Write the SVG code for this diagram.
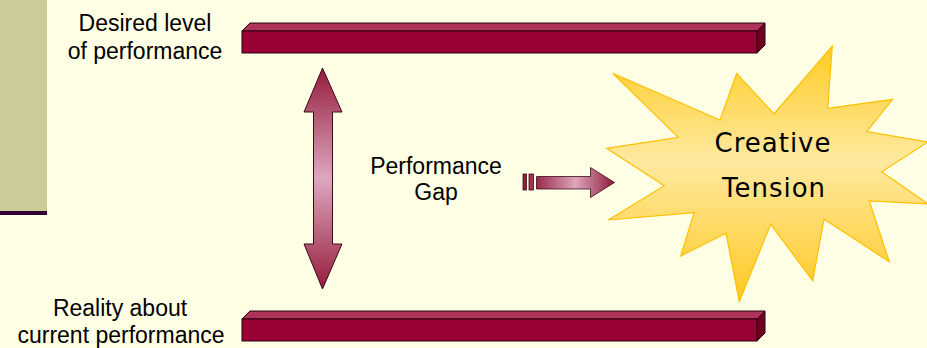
<svg xmlns="http://www.w3.org/2000/svg" width="927" height="348" viewBox="0 0 927 348">
<defs>
<style>
.lbl{font-family:"Liberation Sans",Arial,sans-serif;font-size:23px;fill:#000;text-anchor:middle}
.hand{font-family:"Segoe Print","Comic Sans MS","DejaVu Sans",sans-serif;font-size:26px;fill:#000;text-anchor:middle;letter-spacing:1px}
.front{fill:#990033;stroke:#2a0010;stroke-width:1}
.top{fill:#AD3359;stroke:#2a0010;stroke-width:1}
.side{fill:#6E0022;stroke:#2a0010;stroke-width:1}
</style>
<linearGradient id="gv" x1="0" y1="0" x2="0" y2="1">
<stop offset="0" stop-color="#951C3C"/>
<stop offset="0.5" stop-color="#DDA8BE"/>
<stop offset="1" stop-color="#951C3C"/>
</linearGradient>
<linearGradient id="gh" x1="0" y1="0" x2="1" y2="0">
<stop offset="0" stop-color="#9B2A4C"/>
<stop offset="0.5" stop-color="#DDA6BC"/>
<stop offset="1" stop-color="#8E1A3C"/>
</linearGradient>
<linearGradient id="gs" x1="0" y1="0" x2="0" y2="1">
<stop offset="0" stop-color="#FFCC22"/>
<stop offset="0.45" stop-color="#FFE9A0"/>
<stop offset="1" stop-color="#FFC821"/>
</linearGradient>
</defs>
<rect x="0" y="0" width="927" height="348" fill="#FFFFE6"/>
<rect x="0" y="0" width="47" height="211" fill="#CCCC99"/>
<rect x="0" y="211" width="47" height="4" fill="#330033"/>

<g id="desired-bar">
<polygon class="top" points="242,31 250,23 765,23 757,31"/>
<polygon class="side" points="757,31 765,23 765,45 757,53"/>
<rect class="front" x="242" y="31" width="515" height="22"/>
</g>
<g id="reality-bar">
<polygon class="top" points="242,319 250,311 765,311 757,319"/>
<polygon class="side" points="757,319 765,311 765,333 757,341"/>
<rect class="front" x="242" y="319" width="515" height="22"/>
</g>

<g id="desired-label">
<text class="lbl" x="145" y="31">Desired level</text>
<text class="lbl" x="145" y="59">of performance</text>
</g>
<g id="reality-label">
<text class="lbl" x="120" y="316">Reality about</text>
<text class="lbl" x="121" y="343">current performance</text>
</g>
<g id="gap-label">
<text class="lbl" x="436" y="174">Performance</text>
<text class="lbl" x="436" y="200">Gap</text>
</g>

<g id="connectors">
<polygon points="322.5,68 342,112 332.5,112 332.5,244 342,244 322.5,289 304,244 313.5,244 313.5,112 304,112" fill="url(#gv)" stroke="#3a0a18" stroke-width="1"/>
<g stroke="#3a0a18" stroke-width="0.8">
<rect x="523" y="174" width="3.5" height="16" fill="#951C3C"/>
<rect x="529" y="174" width="4.5" height="16" fill="#A63050"/>
<polygon points="536.5,176.5 590.5,176.5 590.5,167.5 614.5,182.5 590.5,197.5 590.5,189 536.5,189" fill="url(#gh)"/>
</g>
</g>

<g id="creative-tension">
<polygon points="832.3,46 827.7,108.3 892.7,99.3 866.7,131.7 928,142 881.7,171.7 928,204 869.3,201 889.3,261.7 824,219.3 812.7,280.7 770.7,224.3 739.3,301.7 726,233.3 680.7,256 694,212.7 608.3,220 664.3,185.7 606.7,148.3 678.3,137.3 612.7,73.3 720,120 736.7,73.3 774,114" fill="url(#gs)" stroke="#FFC000" stroke-width="1.2" stroke-linejoin="miter"/>
<text class="hand" x="773" y="152">Creative</text>
<text class="hand" x="774" y="197">Tension</text>
</g>
</svg>
